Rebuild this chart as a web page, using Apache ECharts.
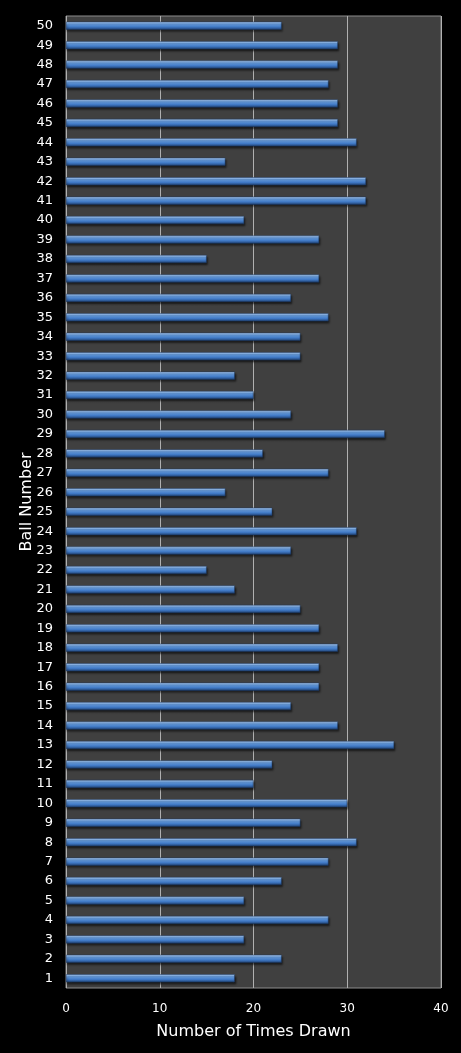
<!DOCTYPE html>
<html>
<head>
<meta charset="utf-8">
<script src="https://cdn.jsdelivr.net/npm/echarts@6/dist/echarts.min.js"></script>
<style>
  html, body { margin: 0; padding: 0; background: #000; }
  #main { width: 461px; height: 1053px; }
</style>
</head>
<body>
<div id="main"></div>
<script>
var myChart = echarts.init(document.getElementById('main'));

// ball numbers 1..50, bottom to top
var balls = [
    '1', '2', '3', '4', '5', '6', '7', '8', '9', '10',
    '11', '12', '13', '14', '15', '16', '17', '18', '19', '20',
    '21', '22', '23', '24', '25', '26', '27', '28', '29', '30',
    '31', '32', '33', '34', '35', '36', '37', '38', '39', '40',
    '41', '42', '43', '44', '45', '46', '47', '48', '49', '50'
];
var timesDrawn = [
    18, 23, 19, 28, 19, 23, 28, 31, 25, 30,
    20, 22, 35, 29, 24, 27, 27, 29, 27, 25,
    18, 15, 24, 31, 22, 17, 28, 21, 34, 24,
    20, 18, 25, 25, 28, 24, 27, 15, 27, 19,
    32, 32, 17, 31, 29, 29, 28, 29, 29, 23
];
var xTicks = [0, 10, 20, 30, 40];

var font = 'DejaVu Sans';

option = {
    backgroundColor: '#000',
    animation: false,
    grid: {
        left: 66,
        right: 20,
        top: 16,
        bottom: 65,
        show: true,
        backgroundColor: '#404040',
        borderColor: '#8c8c8c',
        borderWidth: 1
    },
    xAxis: {
        type: 'value',
        min: xTicks[0],
        max: xTicks[xTicks.length - 1],
        interval: 10,
        name: 'Number of Times Drawn',
        nameLocation: 'middle',
        nameGap: 36,
        nameTextStyle: { color: '#fff', fontSize: 16, fontFamily: font },
        axisLine: { show: false },
        axisTick: { show: false },
        axisLabel: { color: '#fff', fontSize: 12, fontFamily: font, margin: 15 },
        splitLine: { show: true, lineStyle: { color: '#b0b0b0', width: 1 } }
    },
    yAxis: {
        type: 'category',
        data: balls,
        name: 'Ball Number',
        nameLocation: 'middle',
        nameRotate: 90,
        nameMoveOverlap: false,
        nameGap: 31,
        nameTextStyle: { color: '#fff', fontSize: 16, fontFamily: font },
        axisLine: { show: false },
        axisTick: { show: false },
        axisLabel: { color: '#fff', fontSize: 13, fontFamily: font, margin: 13, interval: 0 },
        splitLine: { show: false }
    },
    series: [
        {
            name: 'Times Drawn',
            type: 'bar',
            data: timesDrawn,
            barWidth: 8,
            itemStyle: {
                color: new echarts.graphic.LinearGradient(0, 0, 0, 1, [
                    { offset: 0, color: '#b8d4f5' },
                    { offset: 0.3, color: '#6aa2e6' },
                    { offset: 0.65, color: '#3f78c4' },
                    { offset: 1, color: '#1f3f6e' }
                ]),
                borderColor: '#1d3a66',
                borderWidth: 0.5,
                shadowColor: 'rgba(0,0,0,0.6)',
                shadowOffsetY: 2,
                shadowOffsetX: 1,
                shadowBlur: 2
            }
        }
    ]
};

myChart.setOption(option);
</script>
</body>
</html>
